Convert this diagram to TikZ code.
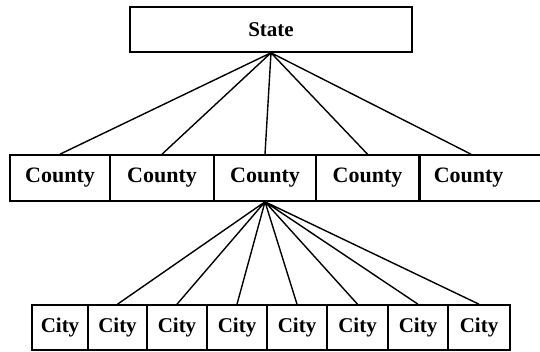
\documentclass[tikz,border=0pt]{standalone}
\usepackage{fontspec}
\setmainfont{Liberation Serif}
\begin{document}
\begin{tikzpicture}[x = 1pt, y = -1pt,
        box/.style = {draw, line width = 1.6pt, inner sep = 0pt,
            font = \fontsize{22}{24}\selectfont\bfseries},
        small/.style = {font = \fontsize{21}{24}\selectfont\bfseries},
        link/.style = {line width = 1.4pt}]
    \useasboundingbox (0, 0) rectangle (540, 352);

    \node [box, small, minimum width = 282pt, minimum height = 45pt] (state) at (271, 29.5) {State};

    \foreach \n/\xa/\xb in {1/10/110, 2/110/214, 3/214/316, 4/316/419} {
        \node [box, minimum width = {(\xb-\xa)*1pt}, minimum height = 46pt]
            (county\n) at ({(\xa+\xb)/2}, 178) {County};
    }
    \node [box, anchor = west, inner xsep = 14pt, text width = 117pt, align = left,
        minimum height = 46pt] (county5) at (419, 178) {County};

    \foreach \n/\xa/\xb in {1/32/88, 2/88/147, 3/147/207, 4/207/267,
            5/267/327, 6/327/388, 7/388/448, 8/448/510} {
        \node [box, small, minimum width = {(\xb-\xa)*1pt}, minimum height = 45pt]
            (city\n) at ({(\xa+\xb)/2}, 327.5) {City};
    }

    \draw [link]
        \foreach \n in {1, ..., 4} {
            (state.south) -- (county\n.north)
        }
        (state.south) -- ([xshift = 52pt]county5.north west);

    \draw [link]
        \foreach \n in {2, ..., 8} {
            (county3.south) -- (city\n.north)
        };
\end{tikzpicture}
\end{document}
